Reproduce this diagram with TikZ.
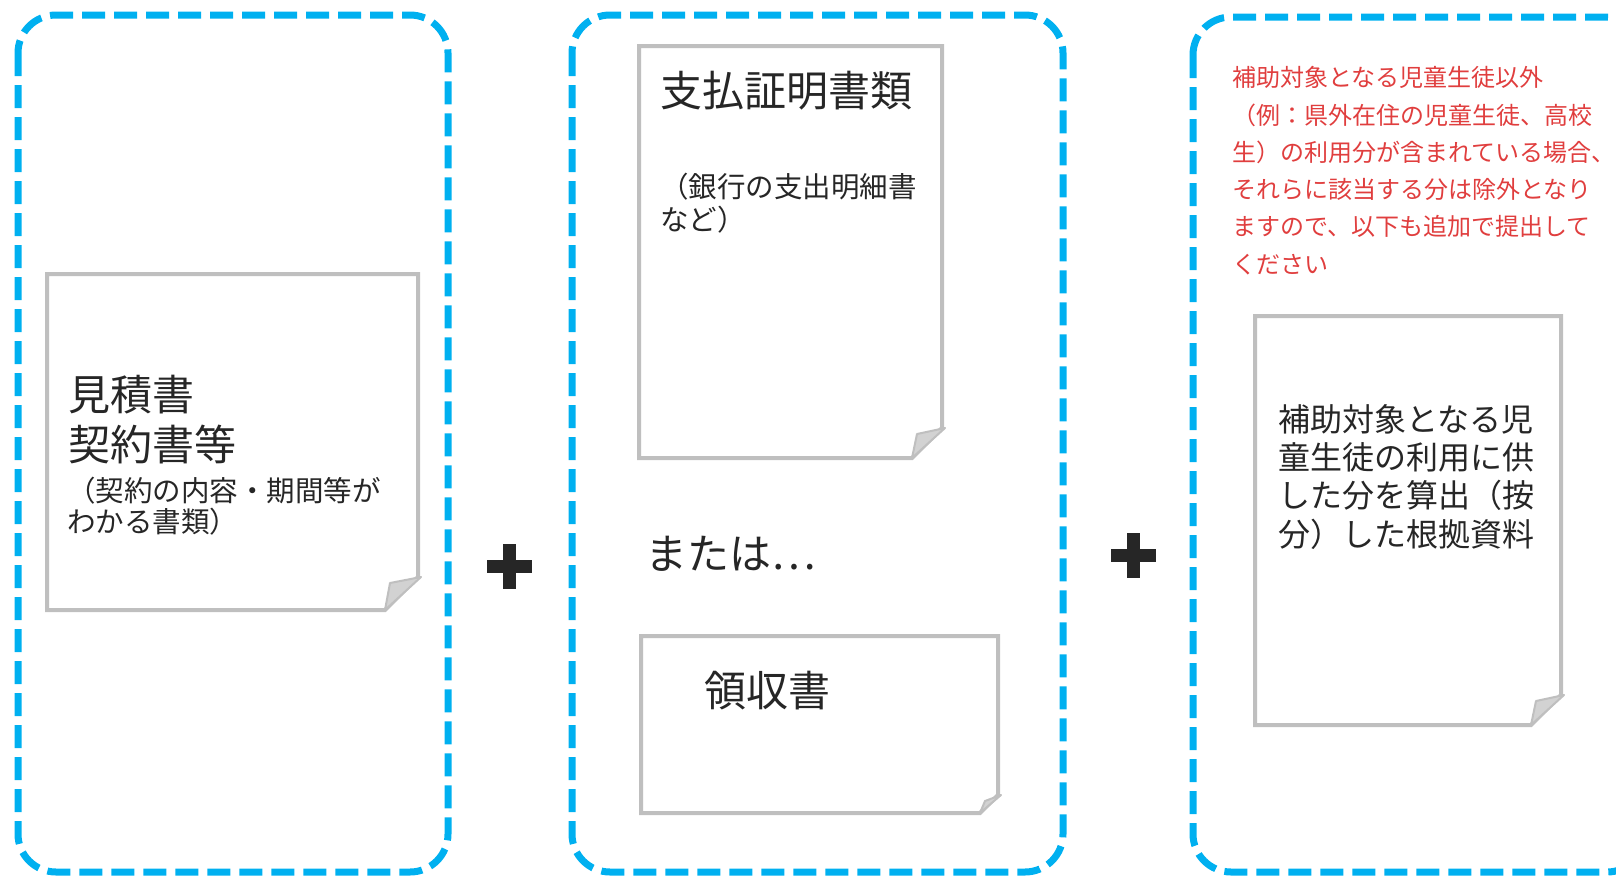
\documentclass[tikz,border=0pt]{standalone}
\usepackage{fontspec}
\setmainfont{Noto Sans CJK JP}
\definecolor{boxblue}{RGB}{0,176,240}
\definecolor{papergray}{RGB}{191,191,191}
\definecolor{foldgray}{RGB}{210,210,210}
\definecolor{txtc}{RGB}{38,38,38}
\definecolor{notered}{RGB}{224,62,62}
\definecolor{plusc}{RGB}{38,38,38}
\tikzset{
  dashbox/.style={draw=boxblue, line width=7pt, dash pattern=on 23pt off 9pt, rounded corners=38pt},
  paperline/.style={draw=papergray, line width=4pt, line join=miter, fill=white},
  foldline/.style={draw=papergray, fill=foldgray, line width=2pt, line join=round},
  txt/.style={anchor=base west, inner sep=0pt, text=txtc},
  big/.style={txt, font=\fontsize{42}{48}\selectfont},
  mid/.style={txt, font=\fontsize{32}{38}\selectfont},
  small/.style={txt, font=\fontsize{28.5}{33}\selectfont},
  red/.style={anchor=base west, inner sep=0pt, text=notered, font=\fontsize{24}{30}\selectfont},
  plusmark/.style={fill=plusc, draw=none}
}
\newcommand{\docpaper}[5]{%
  \draw[paperline] (#1,#2) -- (#3,#2) -- (#3,#4-#5) -- (#3-#5,#4) -- (#1,#4) -- cycle;
  \filldraw[foldline] (#3+3,#4-#5) -- (#3-#5+5,#4-#5+6) -- (#3-#5,#4) -- cycle;
}
\newcommand{\plussign}[2]{%
  \fill[plusmark] (#1-22.5,#2-6.5) rectangle (#1+22.5,#2+6.5);
  \fill[plusmark] (#1-6.5,#2-22.5) rectangle (#1+6.5,#2+22.5);
}
\begin{document}
\begin{tikzpicture}[x=1pt,y=-1pt]
\useasboundingbox (0,0) rectangle (1616,876);
% dashed groups
\draw[dashbox] (18,15) rectangle (448,872);
\draw[dashbox] (572,15) rectangle (1063,872);
\draw[dashbox] (1193,17) rectangle (1645,872);
% papers
\docpaper{47}{274}{418}{610}{33}
\docpaper{639}{46}{942}{458}{30}
\docpaper{641}{636}{998}{813}{18}
\docpaper{1255}{316}{1561}{725}{30}
% plus signs
\plussign{509.5}{566}
\plussign{1133}{555.5}
% paper 1 text
\node[big] (t1a) at (68,410) {見積書};
\node[big] (t1b) at (68,460.5) {契約書等};
\node[small] (t1c) at (67,501) {（契約の内容・期間等が};
\node[small] (t1d) at (67,532) {わかる書類）};
% paper 2 text
\node[big] (t2a) at (660,106.5) {支払証明書類};
\node[small] (t2b) at (660,197.5) {（銀行の支出明細書};
\node[small] (t2c) at (660,230.5) {など）};
% or
\node[big] (or) at (645,569.5) {または…};
% paper 3 text
\node[big] (t3a) at (704,706.5) {領収書};
% red note
\node[red] (r1) at (1232,86.5) {補助対象となる児童生徒以外};
\node[red] (r2) at (1232,124.5) {（例：県外在住の児童生徒、高校};
\node[red] (r3) at (1232,161.5) {生）の利用分が含まれている場合、};
\node[red] (r4) at (1232,198.5) {それらに該当する分は除外となり};
\node[red] (r5) at (1232,235.5) {ますので、以下も追加で提出して};
\node[red] (r6) at (1232,273) {ください};
% paper 4 text
\node[mid] (t4a) at (1278,431.5) {補助対象となる児};
\node[mid] (t4b) at (1278,469.5) {童生徒の利用に供};
\node[mid] (t4c) at (1278,507.5) {した分を算出（按};
\node[mid] (t4d) at (1278,546) {分）した根拠資料};
\end{tikzpicture}
\end{document}
